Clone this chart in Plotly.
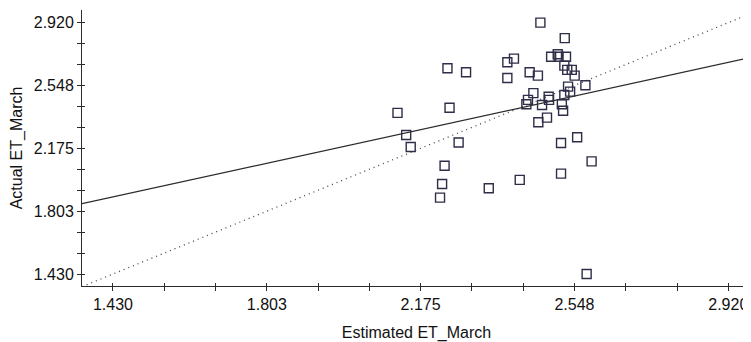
import plotly.graph_objects as go

# Data
estimated_et = [2.119, 2.140, 2.151, 2.222, 2.227, 2.233, 2.240, 2.245, 2.267, 2.285,
                2.340, 2.385, 2.401, 2.385, 2.415, 2.431, 2.435, 2.439, 2.448, 2.459,
                2.460, 2.465, 2.469, 2.481, 2.485, 2.486, 2.491, 2.507, 2.509, 2.515,
                2.515, 2.517, 2.520, 2.523, 2.523, 2.524, 2.527, 2.530, 2.532, 2.537,
                2.541, 2.548, 2.554, 2.574, 2.577, 2.589]
actual_et = [2.385, 2.254, 2.183, 1.883, 1.964, 2.072, 2.650, 2.416, 2.210, 2.626,
             1.938, 2.685, 2.707, 2.592, 1.988, 2.436, 2.462, 2.626, 2.502, 2.606,
             2.330, 2.920, 2.432, 2.357, 2.481, 2.462, 2.718, 2.733, 2.718, 2.207,
             2.025, 2.436, 2.398, 2.491, 2.665, 2.828, 2.718, 2.640, 2.541, 2.511,
             2.640, 2.606, 2.241, 2.549, 1.430, 2.098]

# Fitted regression line
reg_slope = 0.5355
reg_intercept = 1.121

tick_vals = [1.430, 1.8025, 2.175, 2.5475, 2.920]
tick_text = ["1.430", "1.803", "2.175", "2.548", "2.920"]

X_RANGE = [1.355, 2.975]
Y_RANGE = [1.359, 2.995]

ink = "#2b2b2b"
marker_col = "#2e2e48"
font_family = "Liberation Sans, Arial, sans-serif"

fig = go.Figure()

# 1:1 dotted line
lo = min(X_RANGE[0], Y_RANGE[0])
hi = max(X_RANGE[1], Y_RANGE[1])
fig.add_trace(go.Scatter(x=[lo, hi], y=[lo, hi], mode="lines",
                         line=dict(color="#444444", width=1.3, dash="1px,4px"),
                         hoverinfo="skip", showlegend=False))

# regression line
reg_x = [X_RANGE[0], X_RANGE[1]]
reg_y = [reg_intercept + reg_slope * v for v in reg_x]
fig.add_trace(go.Scatter(x=reg_x, y=reg_y, mode="lines",
                         line=dict(color=ink, width=1.3),
                         hoverinfo="skip", showlegend=False))

# points
fig.add_trace(go.Scatter(x=estimated_et, y=actual_et, mode="markers",
                         marker=dict(symbol="square-open", size=9,
                                     color=marker_col, line=dict(width=1.4, color=marker_col)),
                         showlegend=False))

# invisible trace for the inside-tick overlay axes
fig.add_trace(go.Scatter(x=[X_RANGE[0]], y=[Y_RANGE[0]], xaxis="x2", yaxis="y2",
                         mode="markers", marker=dict(opacity=0), hoverinfo="skip",
                         showlegend=False))

minor_step = (tick_vals[1] - tick_vals[0]) / 3

common_axis = dict(
    tickmode="array", tickvals=tick_vals, ticktext=tick_text,
    showgrid=False, zeroline=False, automargin=False,
    showline=True, linecolor=ink, linewidth=1,
    ticks="outside", ticklen=4, tickcolor=ink, tickwidth=1,
    tickfont=dict(family=font_family, size=16, color="#111111"),
    minor=dict(ticks="outside", ticklen=4, tickcolor=ink, tickwidth=1,
               tick0=tick_vals[0], dtick=minor_step, showgrid=False),
)

overlay_axis = dict(
    tickmode="array", tickvals=tick_vals, automargin=False,
    showgrid=False, zeroline=False, showline=False, showticklabels=False,
    ticks="inside", ticklen=3, tickcolor=ink, tickwidth=1,
    minor=dict(ticks="inside", ticklen=3, tickcolor=ink, tickwidth=1,
               tick0=tick_vals[0], dtick=minor_step, showgrid=False),
)

# the page body adds an 8px offset, so the figure is sized to fill the rest
fig.update_layout(
    width=743, height=334,
    margin=dict(l=74, r=0, t=2, b=56),
    paper_bgcolor="white", plot_bgcolor="white",
    font=dict(family=font_family, color="#111111"),
    xaxis=dict(range=X_RANGE,
               title=dict(text="Estimated ET_March", standoff=18,
                          font=dict(family=font_family, size=16, color="#111111")),
               **common_axis),
    yaxis=dict(range=Y_RANGE,
               title=dict(text="Actual ET_March", standoff=8,
                          font=dict(family=font_family, size=16, color="#111111")),
               **common_axis),
    xaxis2=dict(range=X_RANGE, overlaying="x", anchor="y2", side="bottom", **overlay_axis),
    yaxis2=dict(range=Y_RANGE, overlaying="y", anchor="x2", side="left", **overlay_axis),
)

fig.write_html("out.html")
